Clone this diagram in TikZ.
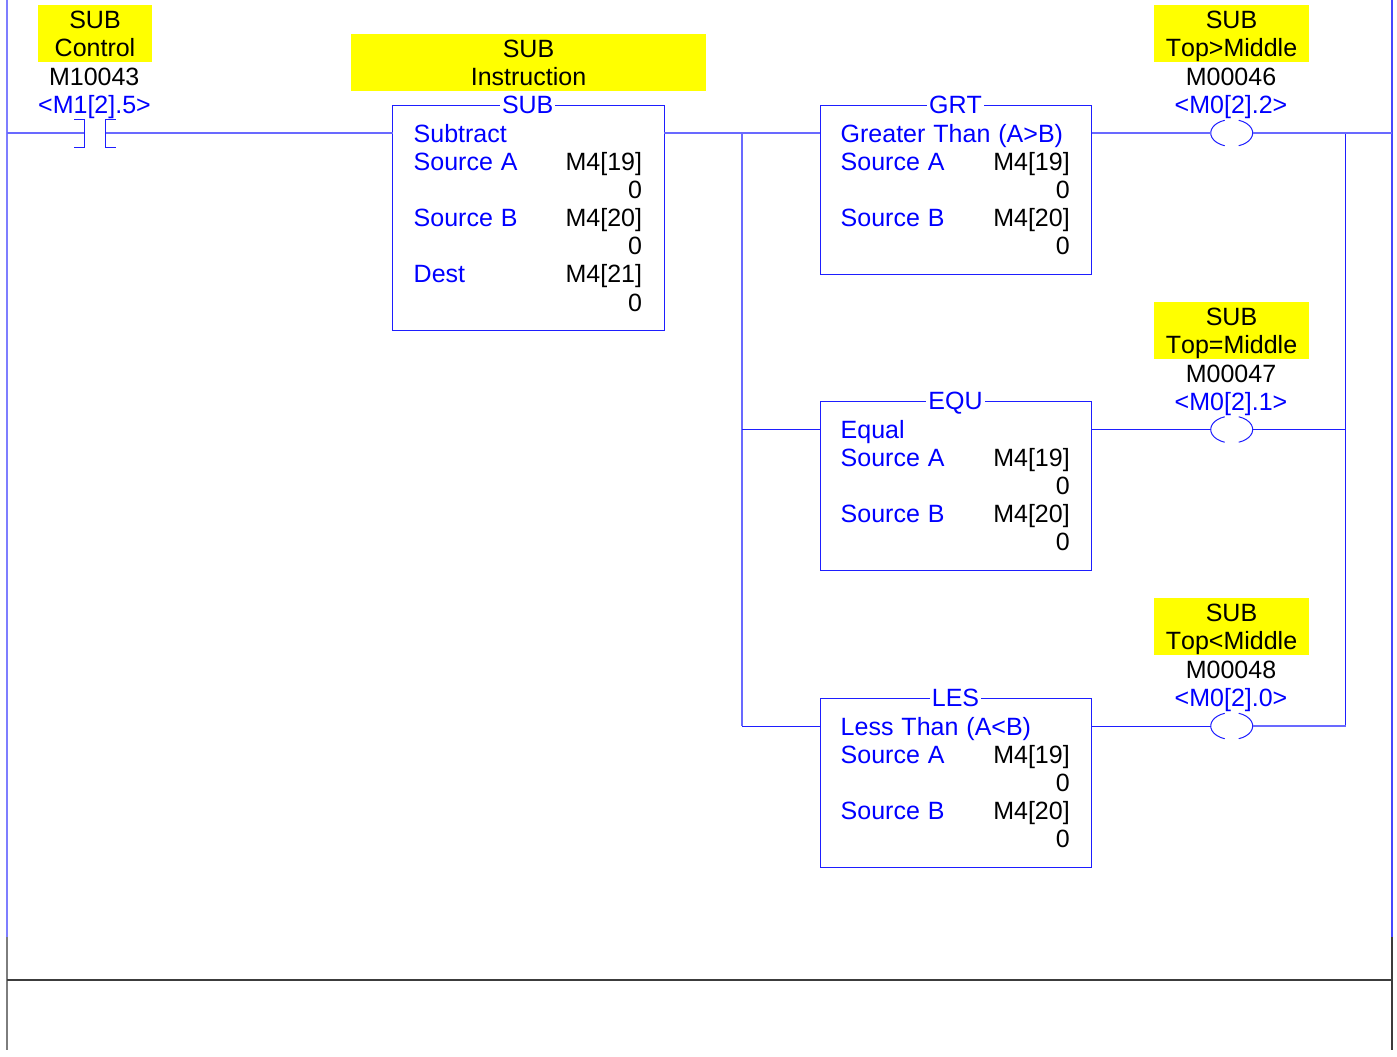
\documentclass[tikz,border=0pt]{standalone}
\usepackage{fontspec}
\setmainfont[Kerning=Off,WordSpace=1.15]{Liberation Sans}
\usetikzlibrary{calc}
\definecolor{wireblue}{RGB}{30,30,255}
\definecolor{rungblue}{RGB}{105,105,255}
\definecolor{textblue}{RGB}{0,0,255}
\definecolor{railblue}{RGB}{70,70,255}
\definecolor{railgray}{RGB}{125,125,125}
\definecolor{raildark}{RGB}{60,60,60}
\definecolor{tagyellow}{RGB}{255,255,0}
\tikzset{
  x=1pt,y=-1pt,
  every node/.style={font=\fontsize{25}{28}\selectfont,inner sep=0pt,outer sep=0pt},
  wire/.style={draw=wireblue,line width=1pt},
  rung/.style={draw=rungblue,line width=1.6pt},
  leftrail/.style={draw=railblue!70!white,line width=2pt},
  rightrail/.style={draw=railblue,line width=1.5pt},
  railend/.style={draw=railgray,line width=2pt},
  darkend/.style={draw=raildark,line width=1.5pt},
  yellowtag/.style={fill=tagyellow,align=center,text=black,minimum height=57pt,text depth=0pt},
  instr/.style={draw=wireblue,line width=1pt,fill=white,anchor=north west},
  instrname/.style={fill=white,text=textblue,inner xsep=2pt,anchor=base},
  bluetext/.style={text=textblue,anchor=base west},
  blackright/.style={text=black,anchor=base east},
  blackmid/.style={text=black,anchor=base},
  bluemid/.style={text=textblue,anchor=base},
  coilnode/.style={minimum width=42pt,minimum height=27pt},
}
\newcommand{\coilarcs}[1]{%
  \draw[wire] ($(#1)+(-7,-12.7)$) arc[start angle=109.5,end angle=250.5,x radius=21pt,y radius=13.5pt];
  \draw[wire] ($(#1)+(7,12.7)$) arc[start angle=-70.5,end angle=70.5,x radius=21pt,y radius=13.5pt];
}
\newcommand{\cmpblock}[4]{% name, top, label, title
  \node[instr,minimum width=271.5pt,minimum height=169pt] (#1) at (820.2,#2+0.2) {};
  \node[instrname] (#1name) at (955.5,#2+8) {#3};
  \node[bluetext] (#1title) at (840.7,#2+37) {#4};
  \node[bluetext] (#1sa) at (840.7,#2+65) {Source A};
  \node[blackright] (#1va) at (1069.7,#2+65) {M4[19]};
  \node[blackright] (#1za) at (1069.7,#2+93) {0};
  \node[bluetext] (#1sb) at (840.7,#2+121) {Source B};
  \node[blackright] (#1vb) at (1069.7,#2+121) {M4[20]};
  \node[blackright] (#1zb) at (1069.7,#2+149) {0};
}
\begin{document}
\begin{tikzpicture}
\useasboundingbox (0,0) rectangle (1397,1057);
\fill[white] (0,0) rectangle (1397,1057);

% rails
\coordinate (ltop) at (7,0);
\coordinate (lmid) at (7,937);
\coordinate (lbot) at (7,1050);
\coordinate (rtop) at (1392,0);
\coordinate (rmid) at (1392,937);
\coordinate (rbot) at (1392,1050);
\coordinate (lend) at (7,980);
\coordinate (rend) at (1392,980);
\coordinate (lrung) at (7,133);
\coordinate (rrung) at (1392,133);
\draw[leftrail] (ltop) -- (lmid);
\draw[rightrail] (rtop) -- (rmid);
\draw[railend] (lmid) -- (lbot);
\draw[darkend] (rmid) -- (rbot);
\draw[darkend] (lend) -- (rend);

% contact
\coordinate (cl) at (84.5,133);
\coordinate (cr) at (105.5,133);
\node[yellowtag,minimum width=114pt] (tagc) at (95,33.5) {SUB\\Control};
\node[blackmid] (addrc) at (94.2,85) {M10043};
\node[bluemid] (xrefc) at (94.5,113) {<M1[2].5>};

% SUB instruction
\node[yellowtag,minimum width=355pt] (tags) at (528.5,62.5) {SUB\\Instruction};
\node[instr,minimum width=271.5pt,minimum height=225pt] (subbox) at (392.5,105.2) {};
\node[instrname] (subname) at (527.7,113) {SUB};
\node[bluetext] (subtitle) at (413.7,142) {Subtract};
\node[bluetext] (subsa) at (413.7,170) {Source A};
\node[blackright] (subva) at (642,170) {M4[19]};
\node[blackright] (subza) at (642,198) {0};
\node[bluetext] (subsb) at (413.7,226) {Source B};
\node[blackright] (subvb) at (642,226) {M4[20]};
\node[blackright] (subzb) at (642,254) {0};
\node[bluetext] (subd) at (413.7,282) {Dest};
\node[blackright] (subvd) at (642,282) {M4[21]};
\node[blackright] (subzd) at (642,311) {0};

% comparison instructions
\cmpblock{grt}{105}{GRT}{Greater Than (A>B)}
\cmpblock{equ}{401}{EQU}{Equal}
\cmpblock{les}{698}{LES}{Less Than (A<B)}

% coils
\node[coilnode] (c1) at (1231.7,133) {};
\node[coilnode] (c2) at (1231.7,429.5) {};
\node[coilnode] (c3) at (1231.7,726) {};
\coilarcs{c1}\coilarcs{c2}\coilarcs{c3}
\node[yellowtag,minimum width=155pt] (tag1) at (1231.5,33.5) {SUB\\Top>Middle};
\node[blackmid] (addr1) at (1231,85) {M00046};
\node[bluemid] (xref1) at (1231,113) {<M0[2].2>};
\node[yellowtag,minimum width=155pt] (tag2) at (1231.5,330.5) {SUB\\Top=Middle};
\node[blackmid] (addr2) at (1231,382) {M00047};
\node[bluemid] (xref2) at (1231,410) {<M0[2].1>};
\node[yellowtag,minimum width=155pt] (tag3) at (1231.5,626.5) {SUB\\Top<Middle};
\node[blackmid] (addr3) at (1231,678) {M00048};
\node[bluemid] (xref3) at (1231,706) {<M0[2].0>};

% junctions
\coordinate (jl1) at (742,133);
\coordinate (jl2) at (742,429.5);
\coordinate (jl3) at (742,726);
\coordinate (jr1) at (1345.5,133);
\coordinate (jr2) at (1345.5,429.5);
\coordinate (jr3) at (1345.5,726);

% branches
\draw[rung] (jl1) -- (jl2) -- (jl3);
\draw[wire] (jl3) -- (les.west |- jl3);
\draw[wire] (jl2) -- (equ.west |- jl2);
\draw[wire] (jr1) -- (jr2) -- (jr3);
\draw[wire] (equ.east |- jr2) -- (c2.west);
\draw[wire] (c2.east) -- (jr2);
\draw[wire] (les.east |- jr3) -- (c3.west);
\draw[rung] (c3.east) -- (jr3);

% top rung
\draw[rung] (lrung) -- (cl);
\draw[rung] (cr) -- (subbox.west |- cr);
\draw[rung] (subbox.east |- jl1) -- (jl1) -- (grt.west |- jl1);
\draw[rung] (grt.east |- jr1) -- (c1.west);
\draw[rung] (c1.east) -- (jr1) -- (rrung);

% contact bars
\draw[wire] (74,119.3) -| (cl) |- (74,147);
\draw[wire] (115.5,119.3) -| (cr) |- (115.5,147);
\end{tikzpicture}
\end{document}
